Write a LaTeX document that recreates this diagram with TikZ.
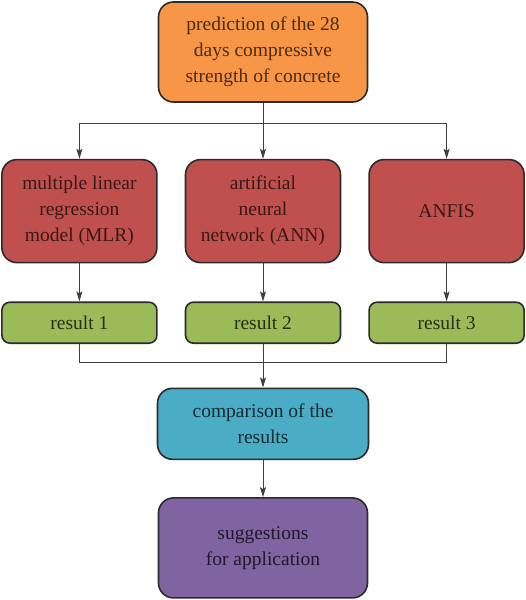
\documentclass[tikz,border=0pt]{standalone}
\usepackage{fontspec}
\newfontfamily\boxfont{Liberation Serif}
\usetikzlibrary{arrows.meta,positioning}
\definecolor{orangefill}{HTML}{F79646}
\definecolor{redfill}{HTML}{C0504D}
\definecolor{greenfill}{HTML}{9BBB59}
\definecolor{cyanfill}{HTML}{4BACC6}
\definecolor{purplefill}{HTML}{8064A2}
\definecolor{framecol}{HTML}{2B2B2B}
\definecolor{linecol}{HTML}{3F3F3F}
\tikzset{
  box/.style={draw=framecol, line width=1.6pt, rounded corners=15pt, align=center,
    inner sep=2pt, font=\boxfont\fontsize{19.5}{26}\selectfont},
  bigbox/.style={box, minimum width=209pt, minimum height=100pt},
  methodbox/.style={box, fill=redfill, text=redfill!30!black, minimum width=155pt, minimum height=103pt},
  resultbox/.style={box, rounded corners=8pt, fill=greenfill, text=greenfill!25!black, minimum width=155pt, minimum height=41pt},
  edge/.style={-{Stealth[length=10pt,width=6pt,inset=2pt]}, draw=linecol, line width=1pt},
  plainedge/.style={draw=linecol, line width=1pt}
}
\begin{document}
\begin{tikzpicture}[node distance=38pt and 27pt]
\useasboundingbox (0,0) rectangle (526pt,-600pt);
\node[bigbox, fill=orangefill, text=orangefill!30!black] (pred) at (263pt,-52pt) {prediction of the 28\\days compressive\\strength of concrete};
\node[methodbox, below=56pt of pred] (ann) {artificial\\neural\\network (ANN)};
\node[methodbox, left=of ann] (mlr) {multiple linear\\regression\\model (MLR)};
\node[methodbox, right=of ann] (anfis) {ANFIS};
\node[resultbox, below=of mlr] (res1) {result 1};
\node[resultbox, below=of ann] (res2) {result 2};
\node[resultbox, below=of anfis] (res3) {result 3};
\node[box, fill=cyanfill, text=cyanfill!25!black, minimum width=211pt, minimum height=71pt, below=43.5pt of res2] (comp) {comparison of the\\results};
\node[bigbox, fill=purplefill, text=purplefill!25!black, below=37pt of comp] (sugg) {suggestions\\for application};
% split from the top box
\coordinate[below=21pt of pred] (split);
\draw[plainedge] (pred.south) -- (split);
\draw[edge] (split) -| (mlr.north);
\draw[edge] (split) -- (ann.north);
\draw[edge] (split) -| (anfis.north);
\draw[edge] (mlr) -- (res1);
\draw[edge] (ann) -- (res2);
\draw[edge] (anfis) -- (res3);
% merge of the results
\coordinate[below=18pt of res2] (merge);
\draw[plainedge] (res1.south) |- (merge);
\draw[plainedge] (res3.south) |- (merge);
\draw[plainedge] (res2.south) -- (merge);
\draw[edge] (merge) -- (comp.north);
\draw[edge] (comp) -- (sugg);
\end{tikzpicture}
\end{document}
